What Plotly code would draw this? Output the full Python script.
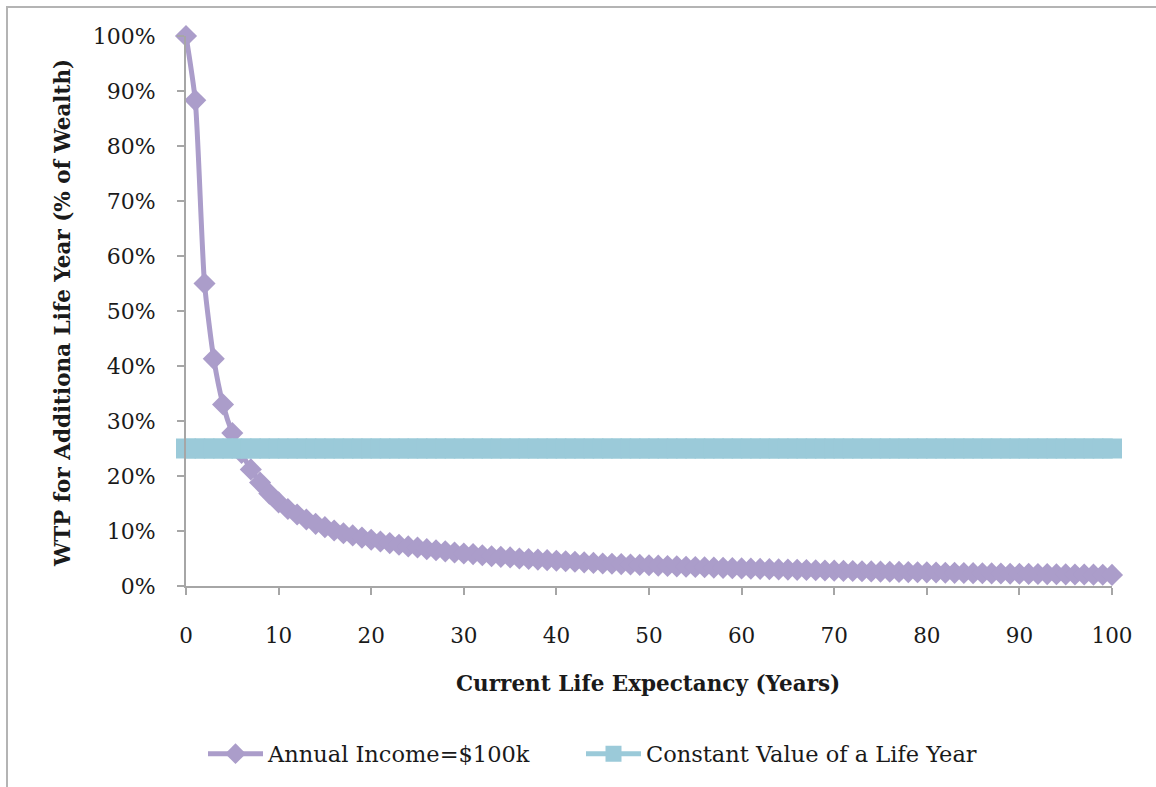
import plotly.graph_objects as go

# Current life expectancy (years)
years = list(range(0, 101))

# Willingness to pay for an additional life year, share of wealth (annual income $100k)
wtp_income_100k = [
    1.000, 0.883, 0.550, 0.413, 0.330, 0.278, 0.242, 0.212, 0.188, 0.168,
    0.152, 0.140, 0.130, 0.121, 0.113, 0.107, 0.101, 0.096, 0.092, 0.088,
    0.084, 0.081, 0.078, 0.075, 0.072, 0.070, 0.067, 0.065, 0.063, 0.061,
    0.059, 0.058, 0.056, 0.054, 0.053, 0.052, 0.050, 0.049, 0.048, 0.047,
    0.046, 0.045, 0.044, 0.043, 0.042, 0.041, 0.0405, 0.0398, 0.0391, 0.0384,
    0.0376, 0.0370, 0.0363, 0.0357, 0.0351, 0.0345, 0.0340, 0.0335, 0.0330, 0.0325,
    0.0320, 0.0315, 0.0311, 0.0306, 0.0302, 0.0298, 0.0294, 0.0290, 0.0286, 0.0282,
    0.0279, 0.0275, 0.0272, 0.0268, 0.0265, 0.0262, 0.0259, 0.0256, 0.0253, 0.0250,
    0.0248, 0.0245, 0.0242, 0.0239, 0.0237, 0.0234, 0.0232, 0.0229, 0.0227, 0.0224,
    0.0222, 0.0220, 0.0218, 0.0216, 0.0214, 0.0212, 0.0210, 0.0208, 0.0206, 0.0204,
    0.0202,
]

# Constant value of a life year (share of wealth)
constant_value = [
    0.25, 0.25, 0.25, 0.25, 0.25, 0.25, 0.25, 0.25, 0.25, 0.25,
    0.25, 0.25, 0.25, 0.25, 0.25, 0.25, 0.25, 0.25, 0.25, 0.25,
    0.25, 0.25, 0.25, 0.25, 0.25, 0.25, 0.25, 0.25, 0.25, 0.25,
    0.25, 0.25, 0.25, 0.25, 0.25, 0.25, 0.25, 0.25, 0.25, 0.25,
    0.25, 0.25, 0.25, 0.25, 0.25, 0.25, 0.25, 0.25, 0.25, 0.25,
    0.25, 0.25, 0.25, 0.25, 0.25, 0.25, 0.25, 0.25, 0.25, 0.25,
    0.25, 0.25, 0.25, 0.25, 0.25, 0.25, 0.25, 0.25, 0.25, 0.25,
    0.25, 0.25, 0.25, 0.25, 0.25, 0.25, 0.25, 0.25, 0.25, 0.25,
    0.25, 0.25, 0.25, 0.25, 0.25, 0.25, 0.25, 0.25, 0.25, 0.25,
    0.25, 0.25, 0.25, 0.25, 0.25, 0.25, 0.25, 0.25, 0.25, 0.25,
    0.25,
]

series_names = ["Annual Income=$100k", "Constant Value of a Life Year"]
x_title = "Current Life Expectancy (Years)"
y_title = "WTP for Additiona Life Year (% of Wealth)"

PURPLE = "#ab9dca"
BLUE = "#9bcad9"
AXIS_GREY = "#a6a6a6"
TEXT = "#1a1a1a"
FONT = "DejaVu Serif"

W, H = 1156, 787
L, R, T, B = 186, 44, 36, 201
PW, PH = W - L - R, H - T - B


def px_to_paper_x(px):
    return (px - L) / PW


def px_to_paper_y(py):
    return (H - B - py) / PH


def legend_box(left_px):
    return dict(
        orientation="h",
        x=px_to_paper_x(left_px), xanchor="left",
        y=px_to_paper_y(754), yanchor="middle",
        font=dict(family=FONT, size=22.5, color=TEXT),
        itemwidth=55,
        bgcolor="rgba(0,0,0,0)",
    )


fig = go.Figure()

fig.add_trace(go.Scatter(
    x=years, y=wtp_income_100k, name=series_names[0],
    mode="lines+markers",
    line=dict(color=PURPLE, width=5, shape="spline", smoothing=0.6),
    marker=dict(symbol="diamond", size=17, color=PURPLE),
    cliponaxis=False, legend="legend",
))

fig.add_trace(go.Scatter(
    x=years, y=constant_value, name=series_names[1],
    mode="lines+markers",
    line=dict(color=BLUE, width=5),
    marker=dict(symbol="square", size=20, color=BLUE),
    cliponaxis=False, legend="legend2",
))

fig.update_layout(
    width=W, height=H,
    margin=dict(l=L, r=R, t=T, b=B, autoexpand=False),
    paper_bgcolor="white", plot_bgcolor="white",
    font=dict(family=FONT, size=21, color=TEXT),
    showlegend=True,
    legend=legend_box(203),
    legend2=legend_box(581),
    xaxis=dict(
        range=[0, 100], dtick=10, tick0=0,
        showgrid=False, zeroline=False,
        showline=True, linecolor=AXIS_GREY, linewidth=2,
        ticks="outside", ticklen=7, tickcolor=AXIS_GREY, tickwidth=2,
        ticklabelstandoff=22,
        tickfont=dict(family=FONT, size=21.5, color=TEXT),
    ),
    yaxis=dict(
        range=[0, 1], dtick=0.1, tick0=0, tickformat=".0%",
        showgrid=False, zeroline=False,
        showline=True, linecolor=AXIS_GREY, linewidth=2,
        ticks="outside", ticklen=7, tickcolor=AXIS_GREY, tickwidth=2,
        ticklabelstandoff=17,
        tickfont=dict(family=FONT, size=22, color=TEXT),
    ),
    annotations=[
        dict(
            text="<b>" + x_title + "</b>", xref="paper", yref="paper",
            x=px_to_paper_x(648), y=px_to_paper_y(683),
            xanchor="center", yanchor="middle", showarrow=False,
            font=dict(family=FONT, size=21.5, color=TEXT),
        ),
        dict(
            text="<b>" + y_title + "</b>", xref="paper", yref="paper",
            x=px_to_paper_x(62), y=px_to_paper_y(313),
            xanchor="center", yanchor="middle", showarrow=False, textangle=-90,
            font=dict(family=FONT, size=21.5, color=TEXT),
        ),
    ],
    shapes=[
        dict(
            type="rect", xref="paper", yref="paper",
            x0=px_to_paper_x(7), y0=px_to_paper_y(795),
            x1=px_to_paper_x(1165), y1=px_to_paper_y(7),
            line=dict(color="#b4b4b4", width=2), fillcolor="rgba(0,0,0,0)",
            layer="below",
        ),
    ],
)

fig.write_html("out.html")
